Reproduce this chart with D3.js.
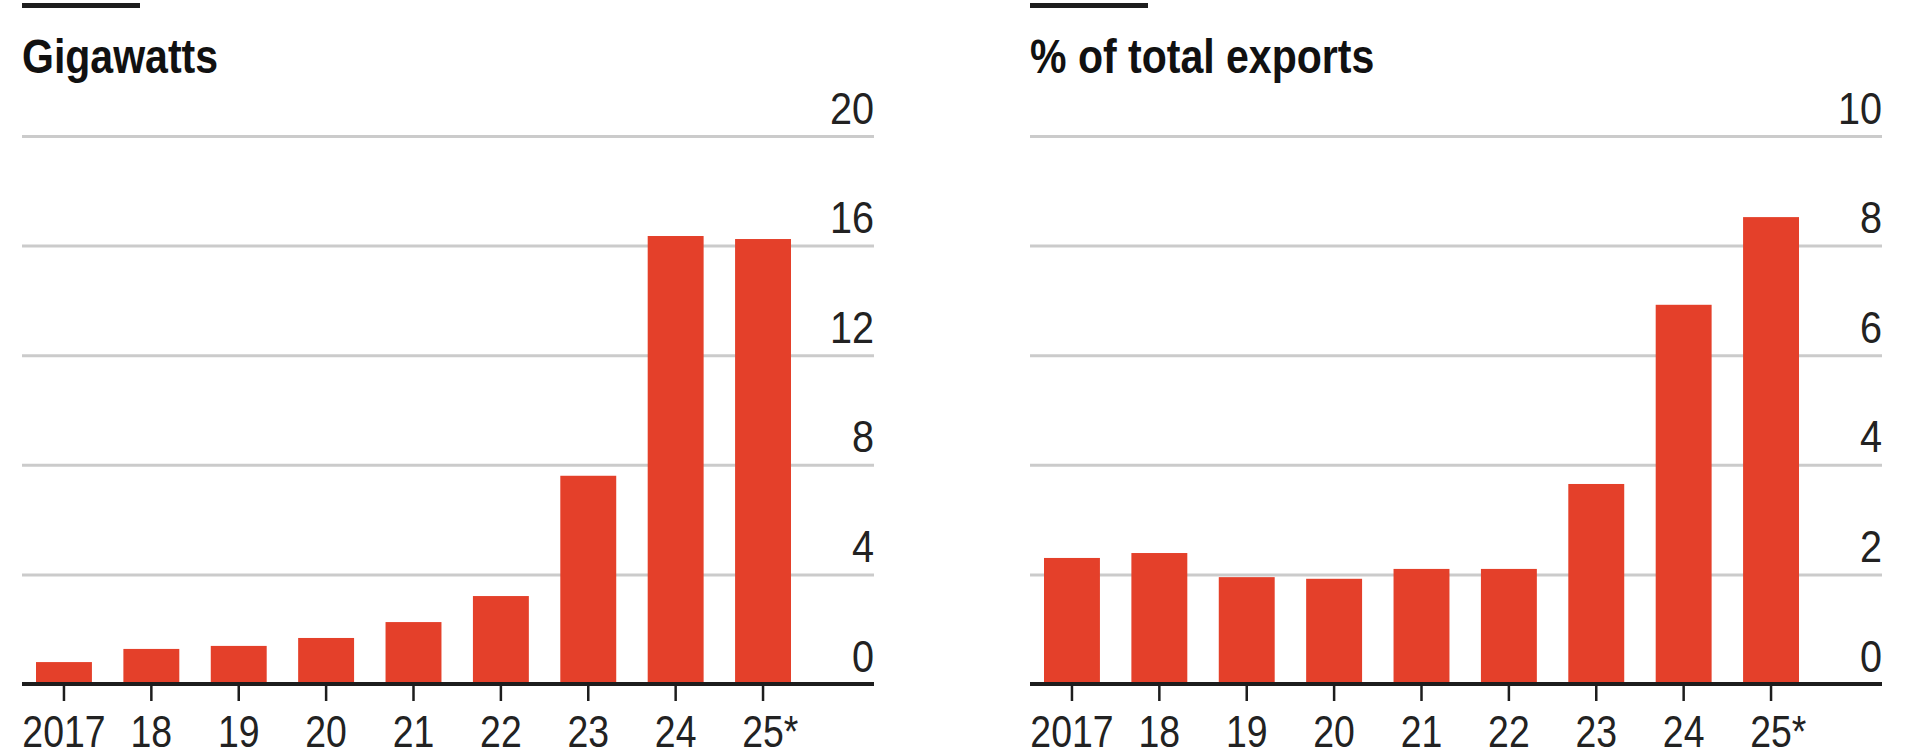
<!DOCTYPE html>
<html>
<head>
<meta charset="utf-8">
<script src="https://cdn.jsdelivr.net/npm/d3@7"></script>
<style>
  body { margin: 0; background: #fff; }
  svg { display: block; }
  text { font-family: "Liberation Sans", Arial, "Helvetica Neue", sans-serif; }
</style>
</head>
<body>
<svg id="chart" width="1915" height="756"></svg>
<script>
// Years on the category axis (2025 is an estimate)
const years = ["2017", "18", "19", "20", "21", "22", "23", "24", "25*"];
// Left panel: gigawatts
const capacityGW = [0.8, 1.28, 1.39, 1.68, 2.26, 3.21, 7.6, 16.35, 16.24];
const capacityTicks = [0, 4, 8, 12, 16, 20];
// Right panel: % of total exports
const exportShare = [2.30, 2.39, 1.95, 1.92, 2.10, 2.10, 3.65, 6.92, 8.52];
const shareTicks = [0, 2, 4, 6, 8, 10];

const titles = ["Gigawatts", "% of total exports"];
const seriesList = [capacityGW, exportShare];
const tickList = [capacityTicks, shareTicks];

// Layout
const panelLeft = [22, 1030];
const panelWidth = 852;
const yTop = 136, yBase = 684;
const barColor = "#e4402a";
const ink = "#1d1d1d";
// horizontal squeeze that gives the condensed look of the labels
const titleSqueeze = 0.855;
const xLabelSqueeze = 0.85;
const yLabelSqueeze = 0.9;

const svg = d3.select("#chart");

seriesList.forEach((values, i) => {
  const x0 = panelLeft[i];
  const ticks = tickList[i];
  const g = svg.append("g");

  // Short black rule above the title
  g.append("rect")
    .attr("x", x0).attr("y", 3)
    .attr("width", 118).attr("height", 5)
    .attr("fill", ink);

  // Unit title
  g.append("g")
    .attr("transform", `translate(${x0},73)`)
    .append("text")
    .attr("transform", `scale(${titleSqueeze},1)`)
    .attr("font-size", 48).attr("font-weight", 700)
    .attr("fill", "#111")
    .text(titles[i]);

  const y = d3.scaleLinear()
    .domain([0, d3.max(ticks)])
    .range([yBase, yTop]);

  const x = d3.scaleBand()
    .domain(years)
    .range([x0 + 14, x0 + 769])
    .paddingInner(0.36)
    .paddingOuter(0);

  // Gridlines with right-aligned labels sitting on top of each line
  const yAxis = g.append("g")
    .attr("transform", `translate(${x0 + panelWidth},0)`)
    .call(d3.axisLeft(y).tickValues(ticks).tickSize(panelWidth).tickFormat(d3.format("d")));
  yAxis.select(".domain").remove();
  yAxis.selectAll(".tick line")
    .attr("stroke", "#cbcbcb").attr("stroke-width", 3)
    .attr("display", d => d === 0 ? "none" : null);
  yAxis.selectAll(".tick text")
    .attr("x", 0).attr("dy", -13)
    .attr("text-anchor", "end")
    .attr("font-size", 44)
    .attr("fill", "#222")
    .attr("transform", `scale(${yLabelSqueeze},1)`);

  // Bars
  g.append("g").selectAll("rect")
    .data(values)
    .join("rect")
    .attr("x", (d, j) => x(years[j]))
    .attr("y", d => y(d))
    .attr("width", x.bandwidth())
    .attr("height", d => y(0) - y(d))
    .attr("fill", barColor);

  // Category axis with small ticks
  const xAxis = g.append("g")
    .attr("transform", `translate(0,${yBase})`)
    .call(d3.axisBottom(x).tickSize(17).tickPadding(15));
  xAxis.select(".domain").remove();
  xAxis.selectAll(".tick line")
    .attr("stroke", ink).attr("stroke-width", 2.5);
  xAxis.selectAll(".tick text")
    .attr("font-size", 44)
    .attr("fill", "#222")
    .attr("transform", `scale(${xLabelSqueeze},1)`)
    .each(function (d) {
      // keep the number centred on its tick and let the asterisk hang
      if (d.endsWith("*")) {
        const n = this.getNumberOfChars();
        const w = this.getSubStringLength(n - 1, 1);
        d3.select(this).attr("dx", w / 2);
      }
    });

  // Zero baseline
  g.append("line")
    .attr("x1", x0).attr("x2", x0 + panelWidth)
    .attr("y1", y(0)).attr("y2", y(0))
    .attr("stroke", ink).attr("stroke-width", 4);
});
</script>
</body>
</html>
